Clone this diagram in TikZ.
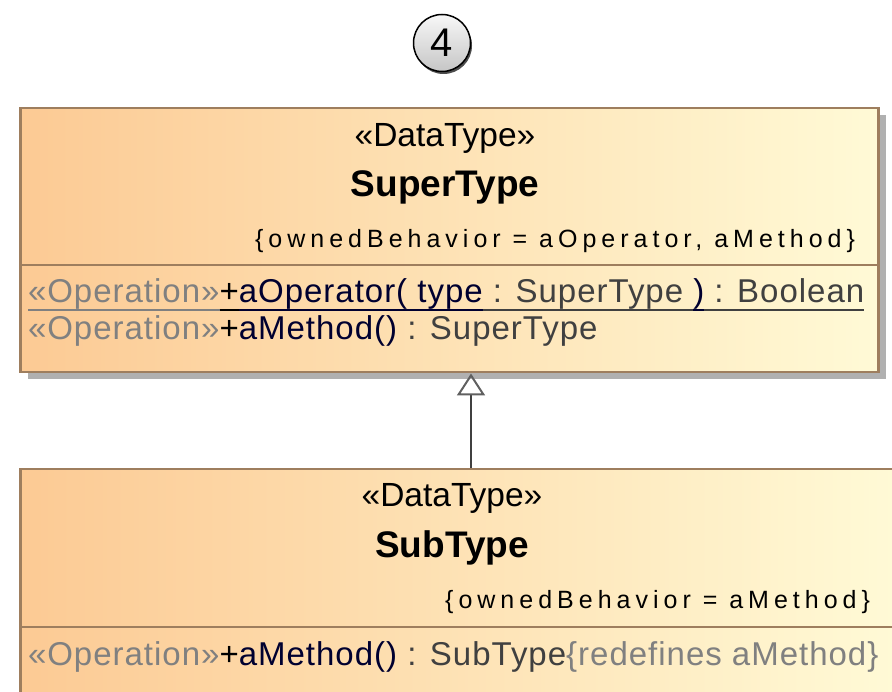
\documentclass[tikz,border=0pt]{standalone}
\usepackage{fontspec}
\setmainfont{Liberation Sans}
\newfontfamily\spacedfont[LetterSpace=20]{Liberation Sans}
\newfontfamily\opfamily[LetterSpace=3]{Liberation Sans}
\usetikzlibrary{arrows.meta,shadows}

\definecolor{umlborder}{RGB}{158,126,94}
\definecolor{umlleft}{RGB}{252,202,148}
\definecolor{umlright}{RGB}{255,250,214}
\definecolor{umlshadow}{RGB}{176,176,176}
\definecolor{stereogray}{RGB}{128,128,128}
\definecolor{opnavy}{RGB}{0,0,48}
\definecolor{typegray}{RGB}{64,64,64}
\definecolor{lineclr}{RGB}{64,64,64}
\definecolor{tipclr}{RGB}{96,96,96}

% text segment in a given colour (spaces kept), optionally underlined
\newcommand\seg[2]{{\color{#1}\hbox{#2}}}
\newcommand\ulseg[2]{{\color{#1}\setbox0\hbox{#2}\rlap{\rule[-8pt]{\wd0}{2pt}}\box0}}
\newcommand\opfont{\fontsize{33}{36}\selectfont\opfamily}
\newcommand\stfont{\fontsize{33.5}{36}\selectfont}
\newcommand\namefont{\fontsize{37}{40}\selectfont\bfseries}
\newcommand\cfont{\fontsize{25}{28}\selectfont\spacedfont}

\tikzset{
  classbox/.style={rectangle, draw=umlborder, line width=2.5pt,
    left color=umlleft, right color=umlright, anchor=north west, inner sep=0pt,
    drop shadow={shadow xshift=8pt, shadow yshift=-7pt, fill=umlshadow, opacity=1}},
  sepline/.style={draw=umlborder, line width=2.5pt},
  txt/.style={inner sep=0pt, outer sep=0pt},
  genline/.style={draw=lineclr, line width=2pt,
    -{Triangle[open, length=22pt, width=28pt, color=tipclr, line width=2pt]}},
  badge/.style={circle, draw=black, line width=1.5pt, minimum size=57pt,
    top color=gray!6, bottom color=gray!45, inner sep=0pt,
    drop shadow={shadow xshift=1.5pt, shadow yshift=-2.5pt, fill=black!70, opacity=1}}
}

\begin{document}
\begin{tikzpicture}[x=1pt, y=-1pt]
\useasboundingbox (0,0) rectangle (892,692);
\clip (0,0) rectangle (892,692);

% step badge
\node[badge, font=\fontsize{40}{40}\selectfont] (num) at (442,43) {4};

% SuperType class
\node[classbox, minimum width=858pt, minimum height=264pt] (super) at (19,107) {};
\draw[sepline] (super.west |- 0,265) -- (super.east |- 0,265);
\node[txt, anchor=base] (superst) at (445,147) {\stfont «DataType»};
\node[txt, anchor=base] (supername) at (445,197) {\namefont SuperType};
\node[txt, anchor=base east] (supercons) at (855,248) {\cfont \{ownedBehavior = aOperator, aMethod\}};
\node[txt, anchor=base west] (superop1) at (28,303) {\opfont
  \ulseg{stereogray}{«Operation»}\ulseg{black}{+}\ulseg{opnavy}{aOperator( type}\ulseg{typegray}{ : SuperType }\ulseg{opnavy}{)}\ulseg{typegray}{ : Boolean}};
\node[txt, anchor=base west] (superop2) at (28,340) {\opfont
  \seg{stereogray}{«Operation»}\seg{black}{+}\seg{opnavy}{aMethod()}\seg{typegray}{ : SuperType}};

% SubType class
\node[classbox, minimum width=876pt, minimum height=300pt] (sub) at (19,468) {};
\draw[sepline] (sub.west |- 0,627) -- (sub.east |- 0,627);
\node[txt, anchor=base] (subst) at (452,507) {\stfont «DataType»};
\node[txt, anchor=base] (subname) at (452,557) {\namefont SubType};
\node[txt, anchor=base east] (subcons) at (870,608) {\cfont \{ownedBehavior = aMethod\}};
\node[txt, anchor=base west] (subop1) at (28,665) {\opfont
  \seg{stereogray}{«Operation»}\seg{black}{+}\seg{opnavy}{aMethod()}\seg{typegray}{ : SubType}\seg{stereogray}{\{redefines aMethod\}}};

% generalization SubType -> SuperType
\coordinate (gx) at (471,0);
\draw[genline] (sub.north -| gx) -- (super.south -| gx);
\end{tikzpicture}
\end{document}
